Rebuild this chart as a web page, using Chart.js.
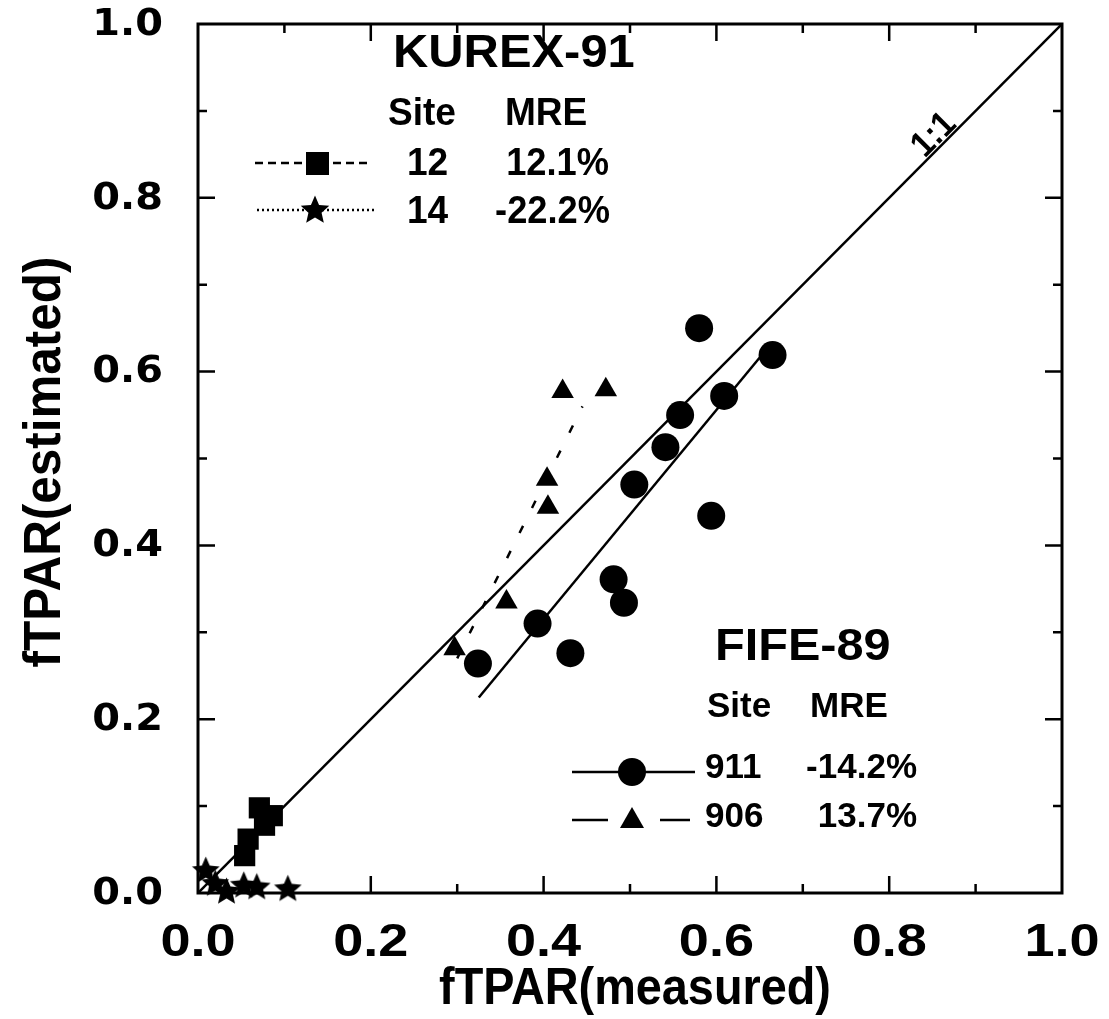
<!DOCTYPE html>
<html>
<head>
<meta charset="utf-8">
<title>fTPAR estimated vs measured</title>
<script src="https://cdn.jsdelivr.net/npm/chart.js@4.4.1/dist/chart.umd.min.js"></script>
<style>
  html, body { margin: 0; padding: 0; background: #fff; }
  #wrap { width: 1109px; height: 1019px; position: relative; }
</style>
</head>
<body>
<div id="wrap"><canvas id="myChart"></canvas></div>
<script>
// FIFE-89, site 911 (circles)
const site911X = [0.580, 0.665, 0.609, 0.558, 0.541, 0.505, 0.594, 0.481, 0.493, 0.393, 0.431, 0.324];
const site911Y = [0.650, 0.619, 0.572, 0.550, 0.513, 0.470, 0.434, 0.361, 0.334, 0.310, 0.276, 0.264];
// FIFE-89, site 906 (triangles)
const site906X = [0.422, 0.472, 0.404, 0.405, 0.357, 0.297];
const site906Y = [0.577, 0.579, 0.476, 0.444, 0.335, 0.281];
// KUREX-91, site 12 (squares)
const site12X = [0.071, 0.086, 0.077, 0.058, 0.054];
const site12Y = [0.098, 0.089, 0.078, 0.062, 0.043];
// KUREX-91, site 14 (stars)
const site14X = [0.009, 0.020, 0.033, 0.053, 0.068, 0.104];
const site14Y = [0.027, 0.012, 0.003, 0.010, 0.008, 0.006];

// fitted lines, end points
const fit911X = [0.325, 0.660];
const fit911Y = [0.225, 0.628];
const fit906X = [0.300, 0.445];
const fit906Y = [0.270, 0.560];
const oneToOneX = [0, 1];
const oneToOneY = [0, 1];

const tickValues = [0, 0.2, 0.4, 0.6, 0.8, 1.0];
const tickLabels = ['0.0', '0.2', '0.4', '0.6', '0.8', '1.0'];

const SANS = '"Liberation Sans", Arial, sans-serif';

function toPoints(xs, ys) {
  return xs.map(function(x, i) { return { x: x, y: ys[i] }; });
}

// filled five point star used as a point style
function makeStar(size) {
  const c = document.createElement('canvas');
  c.width = size; c.height = size;
  const g = c.getContext('2d');
  const R = size / 2, r = R * 0.46;
  g.beginPath();
  for (let i = 0; i < 10; i++) {
    const a = -Math.PI / 2 + i * Math.PI / 5;
    const rr = i % 2 ? r : R;
    g.lineTo(R + rr * Math.cos(a), R + rr * Math.sin(a) + size * 0.05);
  }
  g.closePath();
  g.fillStyle = '#000';
  g.fill();
  return c;
}
const starImg = makeStar(29);

function stretchText(ctx, text, x, y, sx, align) {
  ctx.save();
  ctx.translate(x, y);
  ctx.scale(sx, 1);
  ctx.textAlign = align;
  ctx.fillText(text, 0, 0);
  ctx.restore();
}

// frame with inward ticks on all four sides
const framePlugin = {
  id: 'frame',
  beforeDatasetsDraw(chart) {
    const ctx = chart.ctx;
    const a = chart.chartArea;
    const sx = chart.scales.x, sy = chart.scales.y;
    ctx.save();
    ctx.strokeStyle = '#000';
    ctx.lineWidth = 3;
    ctx.strokeRect(a.left, a.top, a.right - a.left, a.bottom - a.top);
    ctx.lineWidth = 2.5;
    for (let i = 1; i < 10; i++) {
      const v = i / 10;
      const len = i % 2 === 0 ? 17 : 9;
      const px = sx.getPixelForValue(v);
      const py = sy.getPixelForValue(v);
      ctx.beginPath();
      ctx.moveTo(px, a.bottom); ctx.lineTo(px, a.bottom - len);
      ctx.moveTo(px, a.top); ctx.lineTo(px, a.top + len);
      ctx.moveTo(a.left, py); ctx.lineTo(a.left + len, py);
      ctx.moveTo(a.right, py); ctx.lineTo(a.right - len, py);
      ctx.stroke();
    }
    ctx.restore();
  }
};

// tick labels, axis titles, 1:1 label and the two legend blocks
const textPlugin = {
  id: 'texts',
  afterDraw(chart) {
    const ctx = chart.ctx;
    const sx = chart.scales.x, sy = chart.scales.y;
    ctx.save();
    ctx.fillStyle = '#000';
    ctx.strokeStyle = '#000';

    // x tick labels
    ctx.font = 'bold 47px ' + SANS;
    ctx.textBaseline = 'alphabetic';
    tickValues.forEach(function(v, i) {
      stretchText(ctx, tickLabels[i], sx.getPixelForValue(v), 956, 1.15, 'center');
    });

    // y tick labels
    ctx.font = 'bold 38px "DejaVu Sans", sans-serif';
    ctx.textBaseline = 'middle';
    tickValues.forEach(function(v, i) {
      stretchText(ctx, tickLabels[i], 163, sy.getPixelForValue(v) + 1, 1.05, 'right');
    });

    // axis titles
    ctx.font = 'bold 52px ' + SANS;
    ctx.textBaseline = 'alphabetic';
    stretchText(ctx, 'fTPAR(measured)', 635, 1004, 0.9, 'center');
    ctx.save();
    ctx.translate(60, 462);
    ctx.rotate(-Math.PI / 2);
    stretchText(ctx, 'fTPAR(estimated)', 0, 0, 0.95, 'center');
    ctx.restore();

    // 1:1 label along the diagonal
    const p0x = sx.getPixelForValue(0), p0y = sy.getPixelForValue(0);
    const p1x = sx.getPixelForValue(1), p1y = sy.getPixelForValue(1);
    const ang = Math.atan2(p1y - p0y, p1x - p0x);
    ctx.save();
    ctx.translate(sx.getPixelForValue(0.852), sy.getPixelForValue(0.872));
    ctx.rotate(ang);
    ctx.font = 'bold 36px ' + SANS;
    ctx.textAlign = 'center';
    ctx.textBaseline = 'middle';
    ctx.scale(0.9, 1);
    ctx.fillText('1:1', 0, 0);
    ctx.restore();

    // KUREX-91 legend
    ctx.textBaseline = 'alphabetic';
    ctx.font = 'bold 47px ' + SANS;
    stretchText(ctx, 'KUREX-91', 393, 67, 1.04, 'left');
    ctx.font = 'bold 39px ' + SANS;
    stretchText(ctx, 'Site', 388, 125, 0.95, 'left');
    stretchText(ctx, 'MRE', 505, 125, 0.95, 'left');
    stretchText(ctx, '12', 407, 175, 0.95, 'left');
    stretchText(ctx, '12.1%', 609, 175, 0.93, 'right');
    stretchText(ctx, '14', 407, 223, 0.95, 'left');
    stretchText(ctx, '-22.2%', 610, 223, 0.93, 'right');

    ctx.lineWidth = 2.5;
    ctx.setLineDash([8, 5]);
    ctx.beginPath(); ctx.moveTo(255, 163); ctx.lineTo(372, 163); ctx.stroke();
    ctx.setLineDash([2, 3]);
    ctx.beginPath(); ctx.moveTo(257, 210); ctx.lineTo(375, 210); ctx.stroke();
    ctx.setLineDash([]);
    ctx.fillRect(306, 152, 23, 23);
    ctx.drawImage(makeStar(30), 300, 194);

    // FIFE-89 legend
    ctx.font = 'bold 45px ' + SANS;
    stretchText(ctx, 'FIFE-89', 715, 660, 1.08, 'left');
    ctx.font = 'bold 35px ' + SANS;
    stretchText(ctx, 'Site', 707, 717, 1.0, 'left');
    stretchText(ctx, 'MRE', 810, 717, 1.0, 'left');
    stretchText(ctx, '911', 705, 778, 1.0, 'left');
    stretchText(ctx, '-14.2%', 917, 778, 1.0, 'right');
    stretchText(ctx, '906', 705, 827, 1.0, 'left');
    stretchText(ctx, '13.7%', 917, 827, 1.0, 'right');

    ctx.lineWidth = 2.5;
    ctx.beginPath(); ctx.moveTo(572, 772); ctx.lineTo(695, 772); ctx.stroke();
    ctx.beginPath(); ctx.arc(632, 772, 14, 0, Math.PI * 2); ctx.fill();
    ctx.beginPath();
    ctx.moveTo(572, 820); ctx.lineTo(608, 820);
    ctx.moveTo(660, 820); ctx.lineTo(690, 820);
    ctx.stroke();
    ctx.beginPath();
    ctx.moveTo(632, 807); ctx.lineTo(644, 828); ctx.lineTo(620, 828); ctx.closePath();
    ctx.fill();

    ctx.restore();
  }
};

const ctx = document.getElementById('myChart').getContext('2d');
const myChart = new Chart(ctx, {
  type: 'scatter',
  data: {
    datasets: [
      {
        label: '911',
        data: toPoints(site911X, site911Y),
        pointStyle: 'circle',
        pointRadius: 14,
        backgroundColor: '#000',
        borderWidth: 0,
        clip: false
      },
      {
        label: '906',
        data: toPoints(site906X, site906Y),
        pointStyle: 'triangle',
        pointRadius: 13,
        backgroundColor: '#000',
        borderWidth: 0,
        clip: false
      },
      {
        label: '12',
        data: toPoints(site12X, site12Y),
        pointStyle: 'rect',
        pointRadius: 15,
        backgroundColor: '#000',
        borderWidth: 0,
        clip: false
      },
      {
        label: '14',
        data: toPoints(site14X, site14Y),
        pointStyle: starImg,
        pointRadius: 14,
        clip: false
      },
      {
        label: '1:1',
        data: toPoints(oneToOneX, oneToOneY),
        showLine: true,
        borderColor: '#000',
        borderWidth: 2.5,
        pointRadius: 0
      },
      {
        label: 'fit 911',
        data: toPoints(fit911X, fit911Y),
        showLine: true,
        borderColor: '#000',
        borderWidth: 2.5,
        pointRadius: 0
      },
      {
        label: 'fit 906',
        data: toPoints(fit906X, fit906Y),
        showLine: true,
        borderColor: '#000',
        borderWidth: 2.5,
        borderDash: [8, 20],
        pointRadius: 0
      }
    ]
  },
  options: {
    responsive: true,
    maintainAspectRatio: false,
    animation: false,
    layout: { padding: { left: 198, right: 47, top: 24, bottom: 126 } },
    plugins: {
      legend: { display: false },
      tooltip: { enabled: false }
    },
    scales: {
      x: { type: 'linear', min: 0, max: 1, display: false },
      y: { type: 'linear', min: 0, max: 1, display: false }
    }
  },
  plugins: [framePlugin, textPlugin]
});
</script>
</body>
</html>
